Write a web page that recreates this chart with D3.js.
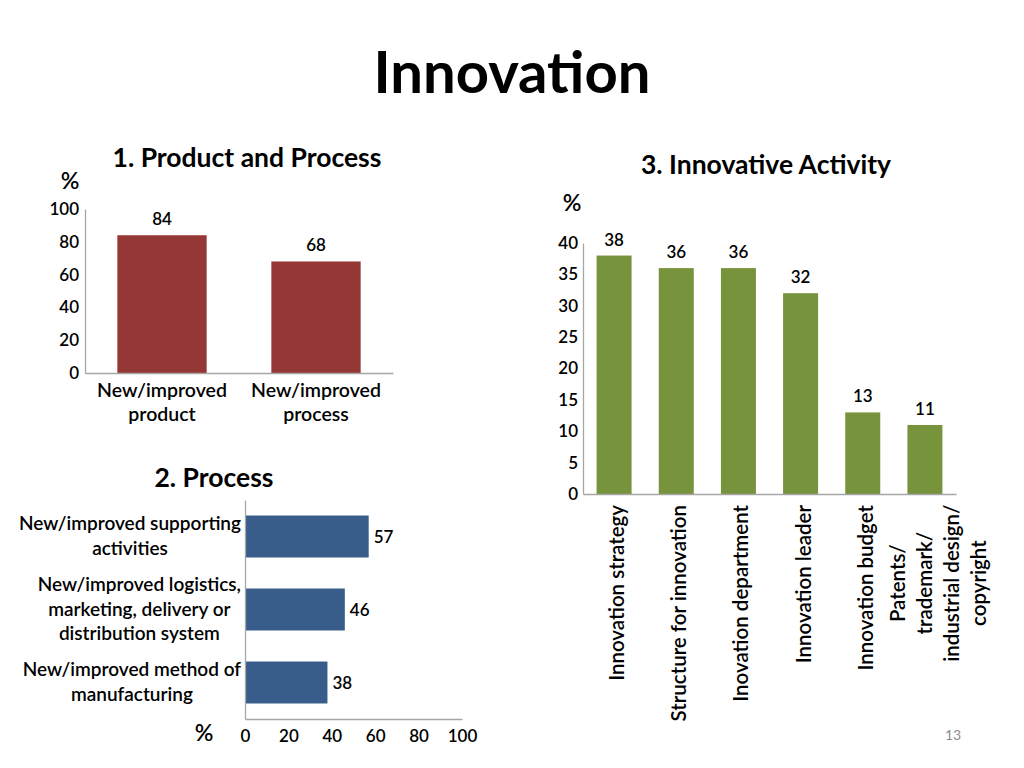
<!DOCTYPE html>
<html><head><meta charset="utf-8">
<script src="https://cdn.jsdelivr.net/npm/d3@7"></script>
<style>
body{margin:0;background:#fff;}
svg{display:block;font-family:"Lato","Carlito",sans-serif;}
</style></head>
<body>
<svg id="c" width="1024" height="768"></svg>
<script>
// ---- data ----
const pageTitle = "Innovation";
const c1Title = "1. Product and Process";
const c1Categories = ["New/improved\nproduct", "New/improved\nprocess"];
const c1Values = [84, 68];
const c1Ticks = [0, 20, 40, 60, 80, 100];

const c2Title = "2. Process";
const c2Categories = ["New/improved supporting\nactivities", "New/improved logistics,\nmarketing, delivery or\ndistribution system", "New/improved method of\nmanufacturing"];
const c2Values = [57, 46, 38];
const c2Ticks = [0, 20, 40, 60, 80, 100];

const c3Title = "3. Innovative Activity";
const c3Categories = ["Innovation strategy", "Structure for innovation", "Inovation department", "Innovation leader", "Innovation budget", "Patents/\ntrademark/\nindustrial design/\ncopyright"];
const c3Values = [38, 36, 36, 32, 13, 11];
const c3Ticks = [0, 5, 10, 15, 20, 25, 30, 35, 40];
const pageNumber = "13";

// ---- drawing ----
const svg = d3.select("#c");
const axisColor = "#a6a6a6";

svg.append("text").attr("x", 512).attr("y", 93).attr("text-anchor", "middle")
  .attr("font-size", 58).attr("font-weight", 700).text(pageTitle);

svg.append("text").attr("x", 953).attr("y", 740).attr("text-anchor", "middle")
  .attr("font-size", 14).attr("fill", "#8c8c8c").text(pageNumber);

function styleAxis(g) {
  g.select(".domain").attr("stroke", axisColor).attr("stroke-width", 1.3);
  g.selectAll(".tick line").remove();
  g.selectAll(".tick text").attr("font-family", "Lato, sans-serif").attr("font-size", 17).attr("font-weight", 600).attr("fill", "#000");
}

// Chart 1
{
  const x = d3.scaleBand().domain(c1Categories).range([85, 393]).paddingInner(0.42).paddingOuter(0.21);
  const y = d3.scaleLinear().domain([0, 100]).range([373, 209]);
  const g = svg.append("g");
  g.append("text").attr("x", 247).attr("y", 167).attr("text-anchor", "middle").attr("font-size", 26.5).attr("font-weight", 700).text(c1Title);
  g.append("text").attr("x", 70).attr("y", 189).attr("text-anchor", "middle").attr("font-size", 23).attr("font-weight", 600).text("%");
  g.selectAll("rect").data(c1Values).join("rect")
    .attr("x", (d, i) => x(c1Categories[i])).attr("width", x.bandwidth())
    .attr("y", d => y(d)).attr("height", d => y(0) - y(d)).attr("fill", "#953735");
  g.selectAll(".val").data(c1Values).join("text").attr("class", "val")
    .attr("x", (d, i) => x(c1Categories[i]) + x.bandwidth() / 2).attr("y", d => y(d) - 10)
    .attr("text-anchor", "middle").attr("font-size", 17).attr("font-weight", 600).text(d => d);
  const ya = g.append("g").attr("transform", "translate(85,0)")
    .call(d3.axisLeft(y).tickValues(c1Ticks).tickSize(0).tickPadding(6).tickSizeOuter(0));
  styleAxis(ya);
  const xa = g.append("g").attr("transform", "translate(0,373)")
    .call(d3.axisBottom(x).tickSize(0).tickSizeOuter(0).tickFormat(""));
  styleAxis(xa);
  c1Categories.forEach(c => {
    const lines = c.split("\n");
    const t = g.append("text").attr("text-anchor", "middle").attr("font-size", 19.5).attr("font-weight", 600);
    lines.forEach((l, j) => t.append("tspan").attr("x", x(c) + x.bandwidth() / 2).attr("y", 397 + j * 24).text(l));
  });
}

// Chart 2
{
  const x = d3.scaleLinear().domain([0, 100]).range([245, 462]);
  const y = d3.scaleBand().domain(c2Categories).range([500, 719]).paddingInner(0.425).paddingOuter(0.2125);
  const g = svg.append("g");
  g.append("text").attr("x", 214).attr("y", 487).attr("text-anchor", "middle").attr("font-size", 26.5).attr("font-weight", 700).text(c2Title);
  g.append("text").attr("x", 204).attr("y", 741).attr("text-anchor", "middle").attr("font-size", 23).attr("font-weight", 600).text("%");
  g.selectAll("rect").data(c2Values).join("rect")
    .attr("x", x(0)).attr("width", d => x(d) - x(0))
    .attr("y", (d, i) => y(c2Categories[i])).attr("height", y.bandwidth()).attr("fill", "#385d8a");
  g.selectAll(".val").data(c2Values).join("text").attr("class", "val")
    .attr("x", d => x(d) + 5).attr("y", (d, i) => y(c2Categories[i]) + y.bandwidth() / 2 + 6)
    .attr("font-size", 17).attr("font-weight", 600).text(d => d);
  const xa = g.append("g").attr("transform", "translate(0,719)")
    .call(d3.axisBottom(x).tickValues(c2Ticks).tickSize(0).tickPadding(11).tickSizeOuter(0));
  styleAxis(xa);
  const ya = g.append("g").attr("transform", "translate(245,0)")
    .call(d3.axisLeft(y).tickSize(0).tickSizeOuter(0).tickFormat(""));
  styleAxis(ya);
  c2Categories.forEach(c => {
    const lines = c.split("\n");
    const t = g.append("text").attr("text-anchor", "middle").attr("font-size", 19).attr("font-weight", 600);
    const spans = lines.map(l => t.append("tspan").text(l));
    const w = d3.max(spans, s => s.node().getComputedTextLength());
    const cx = 241 - w / 2;
    const cy = y(c) + y.bandwidth() / 2;
    const lh = 24.5;
    spans.forEach((s, j) => s.attr("x", cx).attr("y", cy + (j - (lines.length - 1) / 2) * lh + 6));
  });
}

// Chart 3
{
  const x = d3.scaleBand().domain(c3Categories).range([583, 956]).paddingInner(0.437).paddingOuter(0.2185);
  const y = d3.scaleLinear().domain([0, 40]).range([494, 243]);
  const g = svg.append("g");
  g.append("text").attr("x", 766).attr("y", 174).attr("text-anchor", "middle").attr("font-size", 26.5).attr("font-weight", 700).text(c3Title);
  g.append("text").attr("x", 572).attr("y", 211).attr("text-anchor", "middle").attr("font-size", 23).attr("font-weight", 600).text("%");
  g.selectAll("rect").data(c3Values).join("rect")
    .attr("x", (d, i) => x(c3Categories[i])).attr("width", x.bandwidth())
    .attr("y", d => y(d)).attr("height", d => y(0) - y(d)).attr("fill", "#77933c");
  g.selectAll(".val").data(c3Values).join("text").attr("class", "val")
    .attr("x", (d, i) => x(c3Categories[i]) + x.bandwidth() / 2).attr("y", d => y(d) - 10)
    .attr("text-anchor", "middle").attr("font-size", 17).attr("font-weight", 600).text(d => d);
  const ya = g.append("g").attr("transform", "translate(583,0)")
    .call(d3.axisLeft(y).tickValues(c3Ticks).tickSize(0).tickPadding(5).tickSizeOuter(0));
  styleAxis(ya);
  const xa = g.append("g").attr("transform", "translate(0,494)")
    .call(d3.axisBottom(x).tickSize(0).tickSizeOuter(0).tickFormat(""));
  styleAxis(xa);
  c3Categories.forEach(c => {
    const lines = c.split("\n");
    const cx = x(c) + x.bandwidth() / 2 + (lines.length > 1 ? 14 : 3);
    const gg = g.append("g").attr("transform", `translate(${cx},505) rotate(-90)`);
    const t = gg.append("text").attr("text-anchor", "middle").attr("font-size", 20.5).attr("font-weight", 600);
    const spans = lines.map(l => t.append("tspan").text(l));
    const w = d3.max(spans, s => s.node().getComputedTextLength());
    const lh = 27;
    spans.forEach((s, j) => s.attr("x", -w / 2).attr("y", (j - (lines.length - 1) / 2) * lh + 7));
  });
}
</script>
</body></html>
